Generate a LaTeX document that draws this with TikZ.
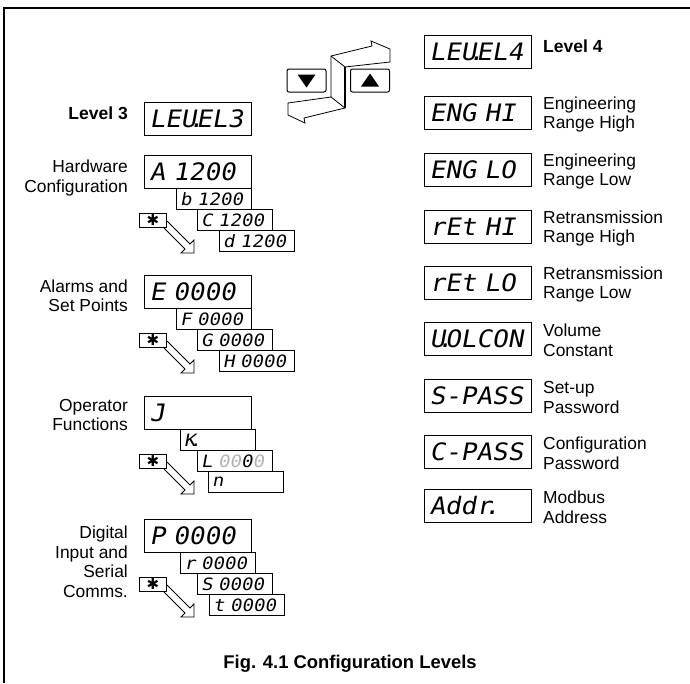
\documentclass[tikz,border=0pt]{standalone}
\usepackage{fontspec}
\setmainfont{Liberation Sans}
\newfontfamily\bigdispfont[FakeStretch=1.08, FakeSlant=0.18]{DejaVu Sans Mono}
\newfontfamily\smalldispfont[FakeStretch=1.12, FakeSlant=0.18]{DejaVu Sans Mono}
\newfontfamily\symfont{DejaVu Sans}
\usetikzlibrary{calc}
\newcommand\dotp{\rlap{\kern-0.33em.}}
\newcommand\dimg[1]{\textcolor{black!30}{#1}}
\begin{document}
\begin{tikzpicture}[x=1pt,y=-1pt,
  disp/.style={draw, line width=1pt, anchor=north west, inner ysep=0pt, align=left},
  bigdisp/.style={disp, text width=97pt, inner xsep=5pt, minimum height=33pt, font=\bigdispfont\fontsize{24}{24}\selectfont},
  smalldisp/.style={disp, text width=68pt, inner xsep=3.5pt, minimum height=21pt, font=\smalldispfont\fontsize{17}{17}\selectfont},
  lbl/.style={inner sep=0pt, font=\fontsize{17.4}{19.5}\selectfont},
  blbl/.style={inner sep=0pt, font=\bfseries\fontsize{17.5}{19.5}\selectfont},
  starbtn/.style={draw, line width=1pt, anchor=north west, minimum width=27pt, minimum height=14pt, inner sep=0pt, font=\symfont\fontsize{15}{15}\selectfont},
  hollow/.style={line width=0.8pt, line join=miter},
  keybtn/.style={draw, line width=1pt, rounded corners=2pt, minimum width=39pt, minimum height=23pt, inner sep=0pt},
  zarrow/.style={line width=0.8pt, line join=miter}
]
\useasboundingbox (0,0) rectangle (690,683);
% frame
\draw[line width=1.2pt] (4,683) -- (4,8) -- (690,8);

% level 3
\node[blbl, anchor=east] (l3) at (128,113) {Level 3};
\node[bigdisp] (lev3) at (144,102) {\mbox{LEU\dotp EL3}};

% up/down keys and Z-arrow
\node[keybtn] (dn) at (306.5,80.5) {};
\node[keybtn] (up) at (370,80.5) {};
\fill ($(dn.center)+(-9,-6)$) -- ($(dn.center)+(9,-6)$) -- ($(dn.center)+(0,7)$) -- cycle;
\fill ($(up.center)+(-9,6)$) -- ($(up.center)+(9,6)$) -- ($(up.center)+(0,-7)$) -- cycle;
\draw[zarrow] (331,56) -- (372,46) -- (371,41) -- (390,49) -- (390,62) -- (345,67)
  -- (345,108) -- (304,118) -- (305,123) -- (288,115) -- (288,103) -- (331,97) -- cycle;
\draw[zarrow] (331,56) -- (345,67);
\draw[zarrow] (331,97) -- (345,108);
\draw[line width=1.4pt] (345,67) -- (345,108);

% Hardware configuration
\node[lbl, anchor=east, align=right] (hwl) at (128,178) {Hardware\\Configuration};
\node[bigdisp] (A) at (144,155) {\mbox{A 1200}};
\node[smalldisp] (B) at (176,188) {\mbox{b 1200}};
\node[smalldisp] (C) at (197,209) {\mbox{C 1200}};
\node[smalldisp] (D) at (219,230) {\mbox{d 1200}};
\node[starbtn] (s1) at (139,213) {✱};
\draw[hollow] ($(s1.south east)+(0,-7)$) -- ++(23,23) -- ++(4,-4) -- ++(0,13) -- ++(-13,0) -- ++(4,-4) -- ($(s1.south east)+(-3,0)$);

% Alarms and set points
\node[lbl, anchor=east, align=right] (all) at (128,296) {Alarms and\\Set Points};
\node[bigdisp] (E) at (144,275) {\mbox{E 0000}};
\node[smalldisp] (F) at (176,308) {\mbox{F 0000}};
\node[smalldisp] (G) at (197,329) {\mbox{G 0000}};
\node[smalldisp] (H) at (219,350) {\mbox{H 0000}};
\node[starbtn] (s2) at (139,333) {✱};
\draw[hollow] ($(s2.south east)+(0,-7)$) -- ++(23,23) -- ++(4,-4) -- ++(0,13) -- ++(-13,0) -- ++(4,-4) -- ($(s2.south east)+(-3,0)$);

% Operator functions
\node[lbl, anchor=east, align=right] (opl) at (128,415) {Operator\\Functions};
\node[bigdisp] (J) at (144,396) {J};
\node[smalldisp] (K) at (180,429) {K\dotp};
\node[smalldisp] (L) at (197,450) {\mbox{L \dimg{00}0\dimg{0}}};
\node[smalldisp] (N) at (208,471) {n};
\node[starbtn] (s3) at (139,454) {✱};
\draw[hollow] ($(s3.south east)+(0,-7)$) -- ++(23,23) -- ++(4,-4) -- ++(0,13) -- ++(-13,0) -- ++(4,-4) -- ($(s3.south east)+(-3,0)$);

% Digital input and serial comms
\node[lbl, anchor=east, align=right] (dil) at (128,562) {Digital\\Input and\\Serial\\Comms.};
\node[bigdisp] (P) at (144,519) {\mbox{P 0000}};
\node[smalldisp] (R) at (180,552) {\mbox{r 0000}};
\node[smalldisp] (S) at (197,573) {\mbox{S 0000}};
\node[smalldisp] (T) at (209,594) {\mbox{t 0000}};
\node[starbtn] (s4) at (139,577) {✱};
\draw[hollow] ($(s4.south east)+(0,-7)$) -- ++(23,23) -- ++(4,-4) -- ++(0,13) -- ++(-13,0) -- ++(4,-4) -- ($(s4.south east)+(-3,0)$);

% Level 4 column
\node[bigdisp] (lev4) at (424,35) {\mbox{LEU\dotp EL4}};
\node[blbl, anchor=west] (l4) at (543,46) {Level 4};
\node[bigdisp] (r1) at (424,96) {\mbox{ENG HI}};
\node[lbl, anchor=west, align=left] (r1l) at (543,114.5) {Engineering\\Range High};
\node[bigdisp] (r2) at (424,153) {\mbox{ENG LO}};
\node[lbl, anchor=west, align=left] (r2l) at (543,171.5) {Engineering\\Range Low};
\node[bigdisp] (r3) at (424,210) {\mbox{rEt HI}};
\node[lbl, anchor=west, align=left] (r3l) at (543,228.5) {Retransmission\\Range High};
\node[bigdisp] (r4) at (424,266) {\mbox{rEt LO}};
\node[lbl, anchor=west, align=left] (r4l) at (543,284.5) {Retransmission\\Range Low};
\node[bigdisp] (r5) at (424,322) {\mbox{U\dotp OLCON}};
\node[lbl, anchor=west, align=left] (r5l) at (543,340.5) {Volume\\Constant};
\node[bigdisp] (r6) at (424,379) {\mbox{S-PASS}};
\node[lbl, anchor=west, align=left] (r6l) at (543,397.5) {Set-up\\Password};
\node[bigdisp] (r7) at (424,435) {\mbox{C-PASS}};
\node[lbl, anchor=west, align=left] (r7l) at (543,453.5) {Configuration\\Password};
\node[bigdisp] (r8) at (424,489) {\mbox{Addr\dotp}};
\node[lbl, anchor=west, align=left] (r8l) at (543,507.5) {Modbus\\Address};

% caption
\node[inner sep=0pt, font=\bfseries\fontsize{18.4}{18.4}\selectfont] (cap) at (350,664) {Fig. 4.1 Configuration Levels};
\end{tikzpicture}
\end{document}
